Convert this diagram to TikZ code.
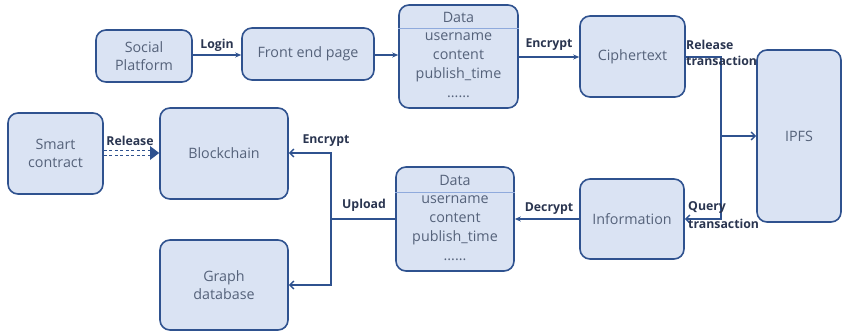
\documentclass[tikz,border=0pt]{standalone}
\usepackage{fontspec}
\setmainfont{Open Sans}
\newfontfamily\labfont{Open Sans}[BoldFont={* Bold}]
\usetikzlibrary{arrows.meta}
\definecolor{bordc}{HTML}{2F528F}
\definecolor{fillc}{HTML}{DAE3F3}
\definecolor{txtc}{HTML}{55627A}
\definecolor{sepc}{HTML}{8FAADC}
\definecolor{labc}{HTML}{2A3550}
\begin{document}
\begin{tikzpicture}[x=1pt,y=-1pt,
  box/.style={draw=bordc,fill=fillc,line width=1.6pt,rounded corners=10pt,
    text=txtc,font=\fontsize{14.3}{18}\selectfont,align=center,inner sep=0pt},
  dtxt/.style={text=txtc,font=\fontsize{14.3}{19}\selectfont,align=center,inner sep=0pt},
  lab/.style={text=labc,font=\labfont\bfseries\fontsize{12.3}{17}\selectfont,inner sep=0pt},
  conn/.style={draw=bordc,line width=1.4pt},
  tip/.style={-{Stealth[length=6pt,width=5pt]}},
  barb/.style={-{Straight Barb[length=4pt,width=8pt,line width=1.4pt]}}
]
\useasboundingbox (0,0) rectangle (842,334);
\node[box,minimum width=96pt,minimum height=52pt] (social) at (144,56) {Social\\Platform};
\node[box,minimum width=132pt,minimum height=52pt] (front) at (308,54) {Front end page};
\node[box,minimum width=119pt,minimum height=103pt] (data1) at (458.5,56.5) {};
\node[box,minimum width=105pt,minimum height=81pt] (cipher) at (632.5,56.5) {Ciphertext};
\node[box,minimum width=84pt,minimum height=172pt] (ipfs) at (799,136) {IPFS};
\node[box,minimum width=104pt,minimum height=80pt] (info) at (632,219) {Information};
\node[box,minimum width=118pt,minimum height=104pt] (data2) at (455,219) {};
\node[box,minimum width=95pt,minimum height=81pt] (smart) at (55.5,153.5) {Smart\\contract};
\node[box,minimum width=128pt,minimum height=91pt] (block) at (224,153.5) {Blockchain};
\node[box,minimum width=128pt,minimum height=90pt] (graph) at (224,285) {Graph\\database};
% data contents
\draw[sepc,line width=1pt] (data1.west |- 0,29) -- (data1.east |- 0,29);
\node[dtxt] (d1t) at (458.5,17) {Data};
\node[dtxt,anchor=north] (d1b) at (458.5,33) {username\\content\\publish\_time\\......};
\draw[sepc,line width=1pt] (data2.west |- 0,192) -- (data2.east |- 0,192);
\node[dtxt] (d2t) at (455,180) {Data};
\node[dtxt,anchor=north] (d2b) at (455,196) {username\\content\\publish\_time\\......};
% junctions
\coordinate (j1) at (721,136);
\coordinate (j2) at (331,219);
% connectors
\draw[conn,tip] (social.east |- 0,55) -- (front.west |- 0,55);
\draw[conn,tip] (front.east |- 0,55) -- (data1.west |- 0,55);
\draw[conn,tip] (data1.east |- 0,57) -- (cipher.west |- 0,57);
\draw[conn] (cipher.east |- 0,57) -| (j1);
\draw[conn,barb] (j1) -- (ipfs.west |- j1);
\draw[conn,barb] (j1) |- (info.east);
\draw[conn,tip] (info.west) -- (data2.east |- info.west);
\draw[conn] (data2.west |- j2) -- (j2);
\draw[conn,barb] (j2) |- (block.east |- 0,153);
\draw[conn,barb] (j2) |- (graph.east);
\draw[bordc,line width=1.2pt,dash pattern=on 3pt off 2.5pt] (smart.east |- 0,150.5) -- (150,150.5);
\draw[bordc,line width=1.2pt,dash pattern=on 3pt off 2.5pt] (smart.east |- 0,155.5) -- (150,155.5);
\fill[bordc] (150,146) -- (block.west |- 0,153) -- (150,160) -- cycle;
% labels
\node[lab] (l1) at (217,45) {Login};
\node[lab] (l2) at (549,45) {Encrypt};
\node[lab,align=left,anchor=north west,font=\labfont\bfseries\fontsize{12.3}{16}\selectfont] (l3) at (686,40) {Release\\transaction};
\node[lab] (l4) at (130,141) {Release};
\node[lab] (l5) at (326,141) {Encrypt};
\node[lab] (l6) at (364,205) {Upload};
\node[lab] (l7) at (549,209) {Decrypt};
\node[lab,align=left,anchor=north west,font=\labfont\bfseries\fontsize{12.3}{18}\selectfont] (l8) at (688,201) {Query\\transaction};
\end{tikzpicture}
\end{document}
